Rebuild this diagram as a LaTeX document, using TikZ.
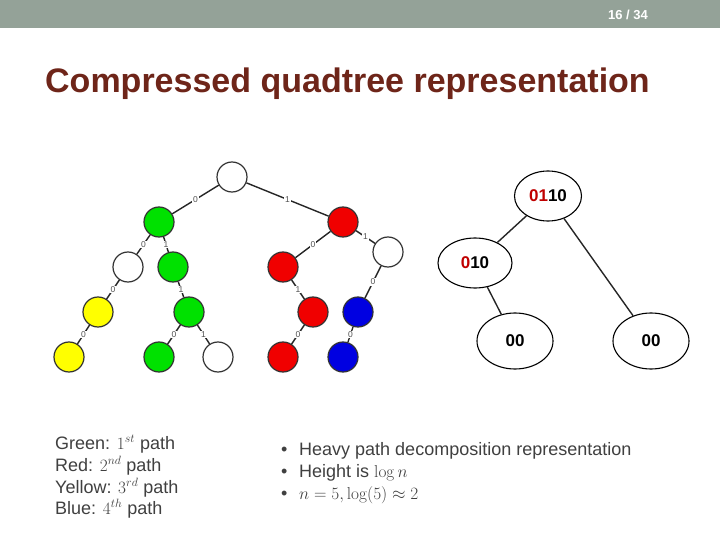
\documentclass[tikz,border=0pt]{standalone}
\usepackage[no-math]{fontspec}
\setmainfont{Liberation Sans}
\usetikzlibrary{shapes.geometric}
\definecolor{hdr}{RGB}{148,162,152}
\definecolor{ttl}{RGB}{110,37,25}
\definecolor{txt}{RGB}{64,64,64}
\definecolor{gn}{RGB}{0,225,0}
\definecolor{rd}{RGB}{240,0,0}
\definecolor{yl}{RGB}{255,255,0}
\definecolor{bl}{RGB}{0,0,225}
\definecolor{brd}{RGB}{192,0,0}
\definecolor{lbl}{RGB}{80,80,80}
\tikzset{
  vtx/.style={circle, draw=black!80, line width=1.2pt, minimum size=30pt, inner sep=0pt},
  wh/.style={vtx, fill=white},
  gr/.style={vtx, fill=gn},
  re/.style={vtx, fill=rd},
  ye/.style={vtx, fill=yl},
  bu/.style={vtx, fill=bl},
  edge/.style={draw=black!85, line width=1.4pt},
  elab/.style={fill=white, inner sep=0.8pt, text=lbl, font=\fontsize{8.5}{9}\selectfont},
  ell/.style={ellipse, draw=black, line width=1.1pt, inner sep=0pt},
  etxt/.style={font=\fontsize{17}{19}\selectfont\bfseries},
  legend/.style={anchor=base west, inner sep=0pt, text=txt, font=\fontsize{18}{22}\selectfont},
}
\begin{document}
\begin{tikzpicture}[x=1pt,y=-1pt]
\useasboundingbox (0,0) rectangle (720,540);
\fill[white] (0,0) rectangle (720,540);
\fill[hdr] (0,0) rectangle (720,28);
\node[text=white, font=\fontsize{13}{15}\selectfont\bfseries, inner sep=0pt] (pg) at (628,15) {16 / 34};
\node[anchor=base west, inner sep=0pt, text=ttl, font=\fontsize{34}{38}\selectfont\bfseries] (title) at (45,93) {Compressed quadtree representation};

% left tree
\node[wh] (r) at (232,177) {};
\node[gr] (g1) at (159,222) {};
\node[re] (r1) at (343,222) {};
\node[wh] (w1) at (128,267) {};
\node[gr] (g2) at (173,267) {};
\node[re] (r2) at (283,267) {};
\node[wh] (w2) at (388,252) {};
\node[ye] (y1) at (98,312) {};
\node[gr] (g3) at (189,312) {};
\node[re] (r3) at (313,312) {};
\node[bu] (b1) at (358,312) {};
\node[ye] (y2) at (69,357) {};
\node[gr] (g4) at (159,357) {};
\node[wh] (w3) at (218,357) {};
\node[re] (r4) at (283,357) {};
\node[bu] (b2) at (343,357) {};

\foreach \a/\b/\l in {r/g1/0, r/r1/1, g1/w1/0, g1/g2/1, w1/y1/0, g2/g3/1, y1/y2/0, g3/g4/0, g3/w3/1, r1/r2/0, r1/w2/1, w2/b1/0, r2/r3/1, r3/r4/0, b1/b2/0}
  \draw[edge] (\a) -- node[elab] {\l} (\b);

% right tree
\node[ell, minimum width=67pt, minimum height=50pt] (t0) at (548,196) {};
\node[ell, minimum width=74pt, minimum height=50pt] (t1) at (475,263) {};
\node[ell, minimum width=76pt, minimum height=56pt] (t2) at (515,341) {};
\node[ell, minimum width=76pt, minimum height=56pt] (t3) at (651,341) {};
\node[etxt] (t0l) at (t0) {\textcolor{brd}{01}10};
\node[etxt] (t1l) at (t1) {\textcolor{brd}{0}10};
\node[etxt] (t2l) at (t2) {00};
\node[etxt] (t3l) at (t3) {00};
\draw[edge] (t0) -- (t1);
\draw[edge] (t0) -- (t3);
\draw[edge] (t1) -- (t2);

% legend
\node[legend] (l1) at (55,449) {Green: $1^{st}$ path};
\node[legend] (l2) at (55,471) {Red: $2^{nd}$ path};
\node[legend] (l3) at (55,493) {Yellow: $3^{rd}$ path};
\node[legend] (l4) at (55,514) {Blue: $4^{th}$ path};

% bullets
\node[legend] (b1t) at (281,455) {\textbullet};
\node[legend] (b2t) at (281,477) {\textbullet};
\node[legend] (b3t) at (281,499) {\textbullet};
\node[legend] (i1) at (299,455) {Heavy path decomposition representation};
\node[legend] (i2) at (299,477) {Height is $\log n$};
\node[legend] (i3) at (299,499) {$n=5, \log(5)\approx 2$};
\end{tikzpicture}
\end{document}
